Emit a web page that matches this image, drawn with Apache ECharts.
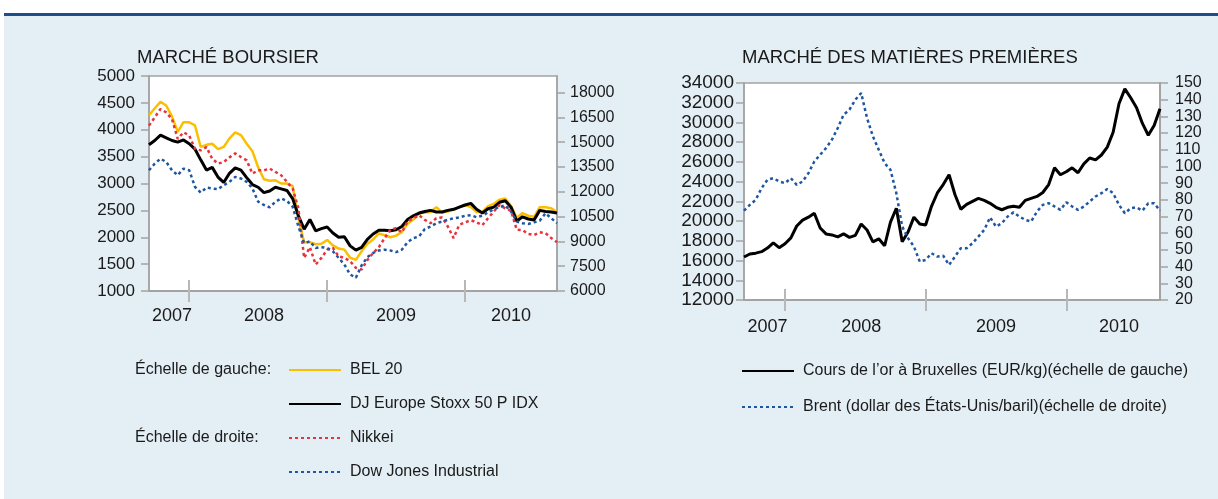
<!DOCTYPE html>
<html>
<head>
<meta charset="utf-8">
<script src="https://cdn.jsdelivr.net/npm/echarts@6/dist/echarts.min.js"></script>
<style>
html, body { margin: 0; padding: 0; background: #fff; }
#chart { width: 1218px; height: 499px; }
</style>
</head>
<body>
<div id="chart"></div>
<script>
// dates (demi-mois), sept. 2007 -> sept. 2010
var dates = [
	'2007-09-15', '2007-10-01', '2007-10-15', '2007-11-01', '2007-11-15', '2007-12-01', '2007-12-15',
	'2008-01-01', '2008-01-15', '2008-02-01', '2008-02-15', '2008-03-01', '2008-03-15', '2008-04-01', '2008-04-15',
	'2008-05-01', '2008-05-15', '2008-06-01', '2008-06-15', '2008-07-01', '2008-07-15', '2008-08-01', '2008-08-15',
	'2008-09-01', '2008-09-15', '2008-10-01', '2008-10-15', '2008-11-01', '2008-11-15', '2008-12-01', '2008-12-15',
	'2009-01-01', '2009-01-15', '2009-02-01', '2009-02-15', '2009-03-01', '2009-03-15', '2009-04-01', '2009-04-15',
	'2009-05-01', '2009-05-15', '2009-06-01', '2009-06-15', '2009-07-01', '2009-07-15', '2009-08-01', '2009-08-15',
	'2009-09-01', '2009-09-15', '2009-10-01', '2009-10-15', '2009-11-01', '2009-11-15', '2009-12-01', '2009-12-15',
	'2010-01-01', '2010-01-15', '2010-02-01', '2010-02-15', '2010-03-01', '2010-03-15', '2010-04-01', '2010-04-15',
	'2010-05-01', '2010-05-15', '2010-06-01', '2010-06-15', '2010-07-01', '2010-07-15', '2010-08-01', '2010-08-15',
	'2010-09-01'
];

// marché boursier (échelle de gauche)
var bel20 = [4270, 4400, 4520, 4450, 4250, 3960, 4140, 4140, 4080, 3680,
	3720, 3740, 3640, 3680, 3840, 3950, 3900, 3740, 3600, 3300,
	3080, 3050, 3060, 3000, 3000, 2950, 2350, 1900, 1910, 1870,
	1880, 1950, 1850, 1790, 1770, 1620, 1580, 1740, 1880, 1960,
	2070, 2040, 2000, 2030, 2100, 2250, 2330, 2440, 2460, 2470,
	2560, 2460, 2480, 2510, 2560, 2600, 2560, 2470, 2470, 2580,
	2620, 2700, 2720, 2580, 2360, 2450, 2400, 2380, 2560, 2560,
	2540, 2470];
var stoxx50 = [3720, 3800, 3900, 3850, 3800, 3770, 3810, 3740, 3640, 3440,
	3250, 3300, 3120, 3020, 3190, 3290, 3250, 3110, 2980, 2930,
	2830, 2860, 2930, 2900, 2870, 2720, 2400, 2150, 2330, 2120,
	2160, 2190, 2080, 2000, 2010, 1840, 1760, 1810, 1960, 2060,
	2130, 2130, 2120, 2140, 2200, 2330, 2400, 2450, 2480, 2500,
	2470, 2470, 2500, 2520, 2560, 2600, 2630, 2520, 2450, 2530,
	2560, 2650, 2680, 2560, 2300, 2380, 2340, 2320, 2500, 2480,
	2470, 2450];
// marché boursier (échelle de droite)
var nikkei = [16000, 16500, 17000, 16800, 16400, 15200, 15600, 15400, 14600, 14500,
	14700, 14000, 13700, 13800, 14080, 14320, 14100, 13900, 13100, 13300,
	13300, 13400, 13200, 13000, 12600, 12200, 11000, 8000, 8650, 7600,
	8000, 8500, 8600, 8100, 8000, 7800, 7400, 7300, 7870, 8300,
	8650, 9200, 9700, 9800, 9550, 10200, 10400, 10580, 10300, 10100,
	10400, 10450, 9900, 9200, 10000, 10150, 10280, 10150, 9980, 10400,
	10800, 11200, 11000, 10850, 9700, 9680, 9450, 9380, 9550, 9500,
	9200, 8950];
var dowJones = [13300, 13700, 14000, 13800, 13300, 13000, 13400, 13300, 12300, 11950,
	12250, 12200, 12150, 12400, 12600, 12900, 12800, 12600, 12200, 11400,
	11200, 11060, 11400, 11600, 11450, 11100, 9900, 8900, 9000, 8600,
	8650, 8600, 8400, 8000, 7600, 7000, 6800, 7550, 8050, 8300,
	8450, 8500, 8450, 8350, 8500, 8950, 9200, 9300, 9750, 9900,
	10100, 10200, 10300, 10400, 10450, 10550, 10580, 10460, 10550, 10760,
	10950, 11070, 11180, 10800, 10200, 10100, 10050, 10150, 10250, 10700,
	10400, 10100];

// matières premières
var gold = [16360, 16660, 16750, 16900, 17270, 17800, 17300, 17700, 18300, 19500,
	20100, 20400, 20800, 19300, 18700, 18600, 18400, 18700, 18350, 18550,
	19700, 19100, 17900, 18200, 17500, 19900, 21300, 17900, 18900, 20400,
	19700, 19600, 21500, 22850, 23700, 24700, 22700, 21200, 21700, 22000,
	22300, 22100, 21800, 21400, 21150, 21400, 21500, 21400, 22100, 22300,
	22500, 22900, 23700, 25400, 24700, 25000, 25400, 24900, 25800, 26400,
	26200, 26700, 27500, 29000, 31900, 33400, 32500, 31500, 29900, 28700,
	29700, 31400];
var brent = [73.5, 77, 80, 87, 92, 93, 91, 90, 93, 89,
	91, 96, 103, 107, 111, 116, 123, 131, 134, 140,
	144, 129, 118, 110, 102, 98, 84, 64, 57, 52,
	43, 44, 48, 46, 46.5, 41, 46, 51, 51, 54,
	58, 62, 69.5, 64, 66, 70, 72.5, 70, 68, 67,
	73, 77, 78, 76, 74, 78.5, 76, 74, 76, 79,
	82, 84, 86.5, 84, 77, 72, 75, 75.5, 73.5, 78,
	78, 73.5];

// où poser les libellés d'années (index dans dates)
var yearLabelsLeft = [4, 20, 43, 63];
var yearLabelsRight = [4, 20, 43, 64];

var FONT = '"Liberation Sans", Arial, sans-serif';
var TXT = '#1a1a1a';
var AXIS = '#a3a3a3';

function isYearStart(i, v) {
	return v.slice(5) === '01-01';
}

// deux axes x par grille : un pour la ligne/les libellés/les graduations vers le bas, un pour les graduations vers le haut
function xAxes(grid, labelIdx, margin) {
	var tick = { color: '#b8b8b8', width: 2 };
	return [{
		type: 'category', gridIndex: grid, data: dates, boundaryGap: false, position: 'bottom',
		axisLine: { lineStyle: { color: AXIS, width: 2 } },
		axisTick: { show: true, interval: isYearStart, length: 11, lineStyle: tick },
		axisLabel: {
			interval: function (i) { return labelIdx.indexOf(i) >= 0; },
			formatter: function (v) { return v.slice(0, 4); },
			margin: margin, fontSize: 18, color: TXT, fontFamily: FONT
		},
		splitLine: { show: false }
	}, {
		type: 'category', gridIndex: grid, data: dates, boundaryGap: false, position: 'bottom',
		axisLine: { show: false },
		axisTick: { show: true, inside: true, interval: isYearStart, length: 11, lineStyle: tick },
		axisLabel: { show: false },
		splitLine: { show: false }
	}];
}

function yAxis(grid, pos, min, max, step, size, margin, lw, showMax) {
	return {
		type: 'value', gridIndex: grid, position: pos, min: min, max: max, interval: step,
		axisLine: { show: true, lineStyle: { color: AXIS, width: lw } },
		axisTick: { show: true, length: 8, lineStyle: { color: AXIS, width: 1.5 } },
		axisLabel: {
			margin: margin, fontSize: size, lineHeight: size, color: TXT, fontFamily: FONT,
			showMaxLabel: showMax, showMinLabel: true, hideOverlap: false,
			formatter: function (v) { return String(v); }
		},
		splitLine: { show: false }
	};
}

function line(name, data, xIdx, yIdx, color, width, dotted) {
	return {
		name: name, type: 'line', data: data, xAxisIndex: xIdx, yAxisIndex: yIdx,
		symbol: 'none', smooth: false,
		lineStyle: { color: color, width: width, type: dotted ? [3, 3] : 'solid' },
		itemStyle: { color: color }
	};
}

var legendText = { fontSize: 16, color: TXT, fontFamily: FONT, lineHeight: 16, padding: [0, 0, 0, 4] };

var chart = echarts.init(document.getElementById('chart'));
var option = {
	animation: false,
	backgroundColor: '#e4eef5',
	title: [{
		text: 'MARCHÉ BOURSIER', left: 137, top: 48, padding: 0,
		textStyle: { fontSize: 18.5, fontWeight: 'normal', color: TXT, fontFamily: FONT }
	}, {
		text: 'MARCHÉ DES MATIÈRES PREMIÈRES', left: 742, top: 48, padding: 0,
		textStyle: { fontSize: 18.5, fontWeight: 'normal', color: TXT, fontFamily: FONT }
	}],
	grid: [
		{ left: 149, top: 76, width: 408, height: 215, show: true, backgroundColor: '#fff', borderColor: AXIS, borderWidth: 1.5 },
		{ left: 744, top: 83, width: 416, height: 217, show: true, backgroundColor: '#fff', borderColor: AXIS, borderWidth: 1.5 }
	],
	xAxis: xAxes(0, yearLabelsLeft, 16).concat(xAxes(1, yearLabelsRight, 18)),
	yAxis: [
		yAxis(0, 'left', 1000, 5000, 500, 17, 14, 1.5, true),
		yAxis(0, 'right', 6000, 19000, 1500, 16, 13, 1.5, false),
		yAxis(1, 'left', 12000, 34000, 2000, 19, 10, 1.5, true),
		yAxis(1, 'right', 20, 150, 10, 16, 15, 2, true)
	],
	legend: [{
		data: ['BEL 20', 'DJ Europe Stoxx 50 P IDX', 'Nikkei', 'Dow Jones Industrial'],
		orient: 'vertical', left: 288, top: 362, padding: 0,
		itemWidth: 52, itemHeight: 14, itemGap: 18, selectedMode: false,
		itemStyle: { opacity: 0 },
		textStyle: legendText
	}, {
		data: ['Cours de l’or à Bruxelles (EUR/kg)(échelle de gauche)', 'Brent (dollar des États-Unis/baril)(échelle de droite)'],
		orient: 'vertical', left: 741, top: 363, padding: 0,
		itemWidth: 52, itemHeight: 14, itemGap: 20, selectedMode: false,
		itemStyle: { opacity: 0 },
		textStyle: legendText
	}],
	graphic: [
		{ type: 'rect', shape: { x: 0, y: 0, width: 1218, height: 13 }, style: { fill: '#fff' } },
		{ type: 'rect', shape: { x: 0, y: 0, width: 4, height: 499 }, style: { fill: '#fff' } },
		{ type: 'rect', shape: { x: 4, y: 13, width: 1214, height: 3 }, style: { fill: '#1f4d8b' } },
		{ type: 'text', x: 135, y: 370, style: { text: 'Échelle de gauche:', font: '16px ' + FONT, fill: TXT, verticalAlign: 'middle' } },
		{ type: 'text', x: 135, y: 438, style: { text: 'Échelle de droite:', font: '16px ' + FONT, fill: TXT, verticalAlign: 'middle' } }
	],
	series: [
		line('BEL 20', bel20, 0, 0, '#fbbf00', 2.5, false),
		line('DJ Europe Stoxx 50 P IDX', stoxx50, 0, 0, '#000', 3, false),
		line('Nikkei', nikkei, 0, 1, '#e8323c', 2.5, true),
		line('Dow Jones Industrial', dowJones, 0, 1, '#1f56a0', 2.5, true),
		line('Cours de l’or à Bruxelles (EUR/kg)(échelle de gauche)', gold, 2, 2, '#000', 3, false),
		line('Brent (dollar des États-Unis/baril)(échelle de droite)', brent, 2, 3, '#1f56a0', 2.5, true)
	]
};
chart.setOption(option);
</script>
</body>
</html>
